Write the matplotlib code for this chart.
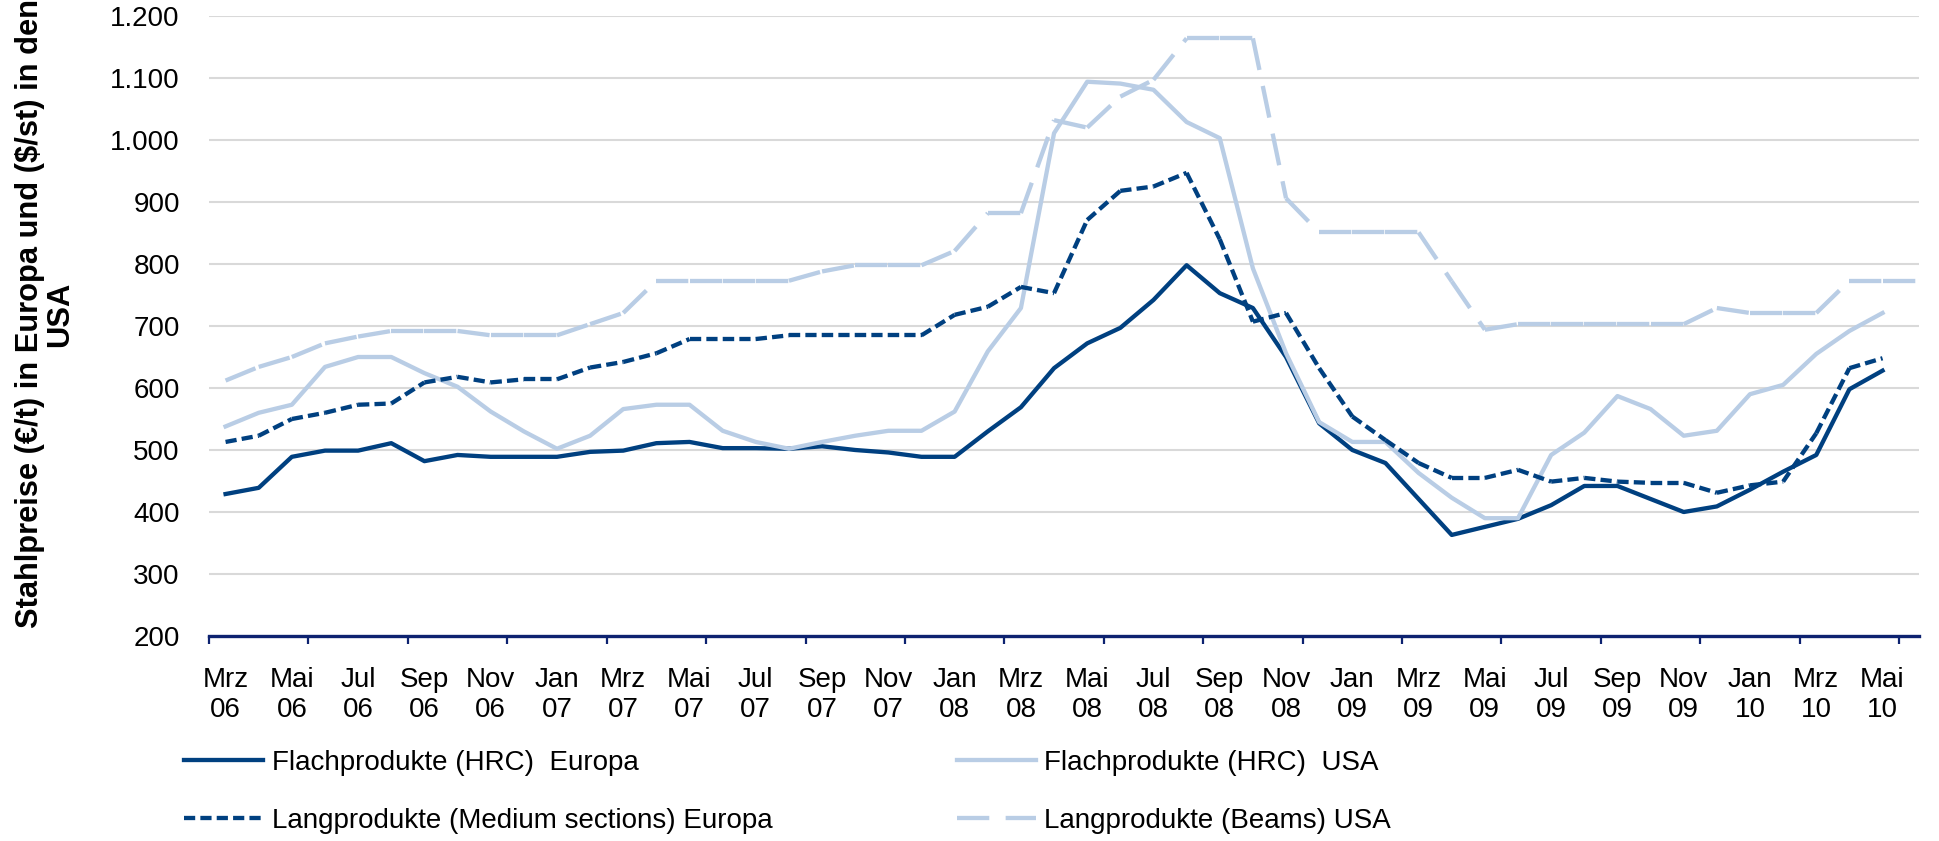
import numpy as np
import matplotlib
matplotlib.use('Agg')
import matplotlib.pyplot as plt
from matplotlib.collections import LineCollection
from matplotlib.lines import Line2D
from matplotlib.ticker import FuncFormatter, FixedLocator

# monatliche Stahlpreise ab Mrz 06
x_labels = ['Mrz\n06', 'Mai\n06', 'Jul\n06', 'Sep\n06', 'Nov\n06',
            'Jan\n07', 'Mrz\n07', 'Mai\n07', 'Jul\n07', 'Sep\n07', 'Nov\n07',
            'Jan\n08', 'Mrz\n08', 'Mai\n08', 'Jul\n08', 'Sep\n08', 'Nov\n08',
            'Jan\n09', 'Mrz\n09', 'Mai\n09', 'Jul\n09', 'Sep\n09', 'Nov\n09',
            'Jan\n10', 'Mrz\n10', 'Mai\n10']

flach_europa = [429, 439, 489, 499, 499, 511, 482, 492, 489, 489, 489, 497, 499,
                511, 513, 503, 503, 502, 506, 500, 496, 489, 489, 530, 569, 632,
                672, 697, 742, 798, 753, 729, 650, 543, 500, 479, 421, 363, 376,
                389, 411, 442, 442, 421, 400, 409, 436, 465, 492, 598, 628]

flach_usa = [538, 560, 573, 634, 650, 650, 624, 602, 562, 530, 502, 523, 566,
             573, 573, 531, 513, 502, 513, 523, 531, 531, 562, 659, 729, 1011,
             1094, 1091, 1081, 1029, 1003, 793, 656, 545, 513, 513, 463, 423, 390,
             390, 492, 528, 587, 566, 523, 531, 590, 605, 655, 692, 721]

lang_europa = [513, 523, 550, 560, 573, 575, 609, 618, 609, 614, 614, 633, 642,
               656, 679, 679, 679, 685, 685, 685, 685, 685, 718, 731, 763, 753,
               871, 918, 925, 947, 840, 707, 721, 632, 554, 516, 479, 455, 455,
               468, 449, 455, 449, 447, 447, 431, 443, 449, 527, 632, 648]

beams_usa = [612, 634, 650, 672, 683, 692, 692, 692, 685, 685, 685, 703, 721,
             773, 773, 773, 773, 773, 788, 798, 798, 798, 821, 882, 882, 1032,
             1020, 1070, 1097, 1164, 1164, 1164, 906, 851, 851, 851, 851, 772, 694,
             703, 703, 703, 703, 703, 703, 729, 721, 721, 721, 773, 773, 773]

dark = '#004080'
light = '#B9CDE5'
navy = '#0D2270'

plt.rcParams['font.family'] = ['Liberation Sans', 'DejaVu Sans']

fig = plt.figure(figsize=(19.39, 8.41), dpi=100)
ax = fig.add_axes([209/1939, 1-636/841, 1710/1939, 620/841])


def segs(vals):
    # jedes Segment einzeln -> Strichmuster beginnt an jedem Punkt neu (wie Excel)
    pts = np.column_stack([np.arange(len(vals)), vals])
    return np.stack([pts[:-1], pts[1:]], axis=1)


lw = 3.1
ax.plot(range(len(flach_europa)), flach_europa, color=dark, lw=lw,
        solid_joinstyle='round', zorder=3)
ax.plot(range(len(flach_usa)), flach_usa, color=light, lw=lw,
        solid_joinstyle='round', zorder=4)
lc1 = LineCollection(segs(lang_europa), colors=dark, linewidths=lw,
                     linestyles=[(0, (2.6, 1.2))], capstyle='butt', zorder=5)
ax.add_collection(lc1)
lc2 = LineCollection(segs(beams_usa), colors=light, linewidths=lw,
                     linestyles=[(0, (7.5, 3.8))], capstyle='butt', zorder=6)
ax.add_collection(lc2)

ax.set_xlim(-0.5, 51.1)
ax.set_ylim(200, 1200)
ax.set_yticks(range(200, 1201, 100))
ax.yaxis.set_major_formatter(FuncFormatter(lambda v, p: f'{int(v):,}'.replace(',', '.')))
ax.grid(axis='y', color='#D9D9D9', lw=1.5, zorder=0)
ax.set_axisbelow(True)

ax.set_xticks(range(0, 51, 2))
ax.set_xticklabels(x_labels)
ax.xaxis.set_minor_locator(FixedLocator(np.arange(-0.5, 51, 3)))
ax.tick_params(axis='x', which='major', length=0, pad=22, labelsize=20)
ax.tick_params(axis='x', which='minor', length=6, width=1.6, color=navy)
ax.tick_params(axis='y', length=0, pad=21, labelsize=20)

for s in ['top', 'right', 'left']:
    ax.spines[s].set_visible(False)
ax.spines['bottom'].set_color(navy)
ax.spines['bottom'].set_linewidth(2.4)
ax.spines['bottom'].set_zorder(7)

fig.text(45/1939, 1-314/841,
         'Stahlpreise (€/t) in Europa und ($/st) in den\nUSA',
         rotation=90, ha='center', va='center', multialignment='center',
         fontsize=22.2, fontweight='bold', linespacing=1.0)

handles = [
    Line2D([], [], color=dark, lw=lw),
    Line2D([], [], color=dark, lw=lw, dashes=(2.6, 1.2), dash_capstyle='butt'),
    Line2D([], [], color=light, lw=lw),
    Line2D([], [], color=light, lw=lw, dashes=(7.5, 3.8), dash_capstyle='butt'),
]
labels = ['Flachprodukte (HRC)  Europa',
          'Langprodukte (Medium sections) Europa',
          'Flachprodukte (HRC)  USA',
          'Langprodukte (Beams) USA']
fig.legend(handles, labels, ncol=2, loc='upper left',
           bbox_to_anchor=(184/1939, 1-750/841), frameon=False,
           fontsize=20, borderpad=0, borderaxespad=0, handlelength=2.85,
           handletextpad=0.3, columnspacing=6.65, labelspacing=1.15)

fig.savefig('out.png', dpi=100)
